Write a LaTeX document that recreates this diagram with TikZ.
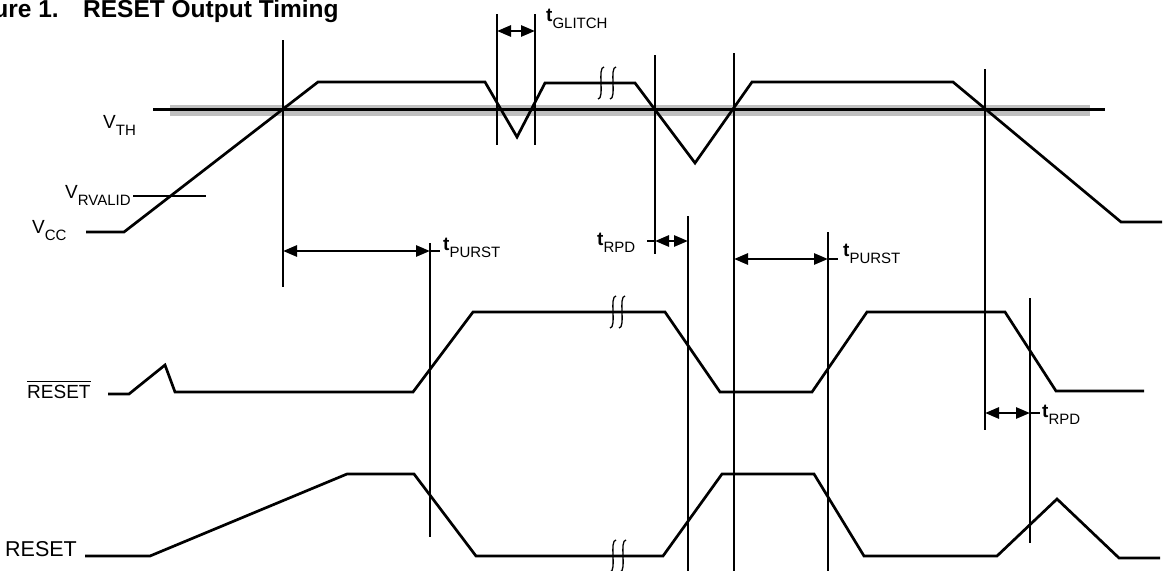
\documentclass[tikz,border=0pt]{standalone}
\usepackage{fontspec}
\setmainfont{Liberation Sans}
\usetikzlibrary{arrows.meta}
\newcommand\subt[1]{\raisebox{-7pt}{\fontsize{15}{15}\selectfont #1}}
\newcommand\ovl[1]{\vbox{\hrule height 1.5pt \kern 2.5pt \hbox{#1}}}
\tikzset{
  wave/.style={line width=2.7pt, line join=miter},
  vline/.style={line width=2.7pt},
  dimline/.style={line width=2.7pt, {Triangle[length=14pt,width=11pt]}-{Triangle[length=14pt,width=11pt]}},
  stub/.style={line width=2.7pt},
  brk/.style={line width=1.3pt},
  lbl/.style={inner sep=0pt, anchor=base west, font=\fontsize{19}{19}\selectfont},
  ttl/.style={inner sep=0pt, anchor=base west, font=\fontsize{24.5}{24.5}\selectfont\bfseries}
}
\begin{document}
\begin{tikzpicture}[x=1pt,y=-1pt]
\useasboundingbox (0,0) rectangle (1169,570);
\clip (0,0) rectangle (1169,570);
\fill[white] (0,0) rectangle (1169,570);
% title
\node[ttl, anchor=base east] (title1) at (59,17.5) {Figure 1.};
\node[ttl] (title2) at (83,17.5) {RESET Output Timing};
% threshold band
\fill[gray!50] (170,104.5) rectangle (1090,115.5);
\draw[line width=2.7pt] (153,109.5) -- (1105,109.5);
% labels
\node[lbl] (vth) at (103,128) {V\subt{TH}};
\node[lbl] (vrv) at (65,198) {V\subt{RVALID}};
\node[lbl] (vcc) at (32,233) {V\subt{CC}};
\node[lbl] (rstb) at (27,398) {\ovl{RESET}};
\node[lbl, font=\fontsize{21.5}{21.5}\selectfont] (rst) at (5,556) {RESET};
% VRVALID line
\draw[wave] (133,196) -- (206,196);
% VCC waveform
\draw[wave] (86,232) -- (124,232) -- (318,82) -- (485,82) -- (517,137) -- (545,83) -- (635,83) -- (695,163) -- (752,82) -- (953,82) -- (1121,222) -- (1162,222);
% RESET bar waveform
\draw[wave] (108,394) -- (129,394) -- (165,365) -- (175,392) -- (413,392) -- (473,312) -- (665,312) -- (720,392) -- (812,392) -- (867,312) -- (1005,312) -- (1056,391) -- (1144,391);
% RESET waveform
\draw[wave] (85,556) -- (150,556) -- (347,474) -- (414,474) -- (476,556) -- (663,556) -- (722,474) -- (814,474) -- (864,556) -- (997,556) -- (1057,499) -- (1119,558) -- (1160,558);
% break marks
\foreach \bx/\by in {601/83, 613/83, 613/312, 622/312, 613/556, 623/556}{
  \draw[brk] (\bx+3,\by-16) .. controls (\bx-4,\by-16) and (\bx+4,\by+16) .. (\bx-3,\by+16);
}
% vertical marker lines
\coordinate (v1t) at (283,40);  \coordinate (v1b) at (283,287);
\coordinate (g1t) at (497,14);  \coordinate (g1b) at (497,145);
\coordinate (g2t) at (535,14);  \coordinate (g2b) at (535,145);
\coordinate (v3t) at (655,55);  \coordinate (v3b) at (655,254);
\coordinate (v4t) at (734,53);  \coordinate (v4b) at (734,572);
\coordinate (v5t) at (985,69);  \coordinate (v5b) at (985,430);
\coordinate (r1t) at (688,216); \coordinate (r1b) at (688,572);
\coordinate (p1t) at (430,243); \coordinate (p1b) at (430,537);
\coordinate (p2t) at (828,232); \coordinate (p2b) at (828,572);
\coordinate (r2t) at (1030,298); \coordinate (r2b) at (1030,543);
\foreach \n in {v1,g1,g2,v3,v4,v5,r1,p1,p2,r2}{\draw[vline] (\n t) -- (\n b);}
% dimension arrows
\coordinate (ga) at (497,31); \coordinate (gb) at (535,31);
\draw[dimline] (ga) -- (gb);
\node[lbl] (tgl) at (546,21) {\textbf{t}\subt{GLITCH}};
\coordinate (pa) at (283,251); \coordinate (pb) at (430,251); \coordinate (pc) at (440,251);
\draw[dimline] (pa) -- (pb); \draw[stub] (pb) -- (pc);
\node[lbl] (tp1) at (443,250) {\textbf{t}\subt{PURST}};
\coordinate (ra) at (655,241); \coordinate (rb) at (688,241); \coordinate (rc) at (647,241);
\draw[dimline] (ra) -- (rb); \draw[stub] (rc) -- (ra);
\node[lbl] (tr1) at (597,245) {\textbf{t}\subt{RPD}};
\coordinate (qa) at (734,259); \coordinate (qb) at (828,259); \coordinate (qc) at (838,259);
\draw[dimline] (qa) -- (qb); \draw[stub] (qb) -- (qc);
\node[lbl] (tp2) at (843,256) {\textbf{t}\subt{PURST}};
\coordinate (sa) at (985,413); \coordinate (sb) at (1030,413); \coordinate (sc) at (1040,413);
\draw[dimline] (sa) -- (sb); \draw[stub] (sb) -- (sc);
\node[lbl] (tr2) at (1042,417) {\textbf{t}\subt{RPD}};
\end{tikzpicture}
\end{document}
